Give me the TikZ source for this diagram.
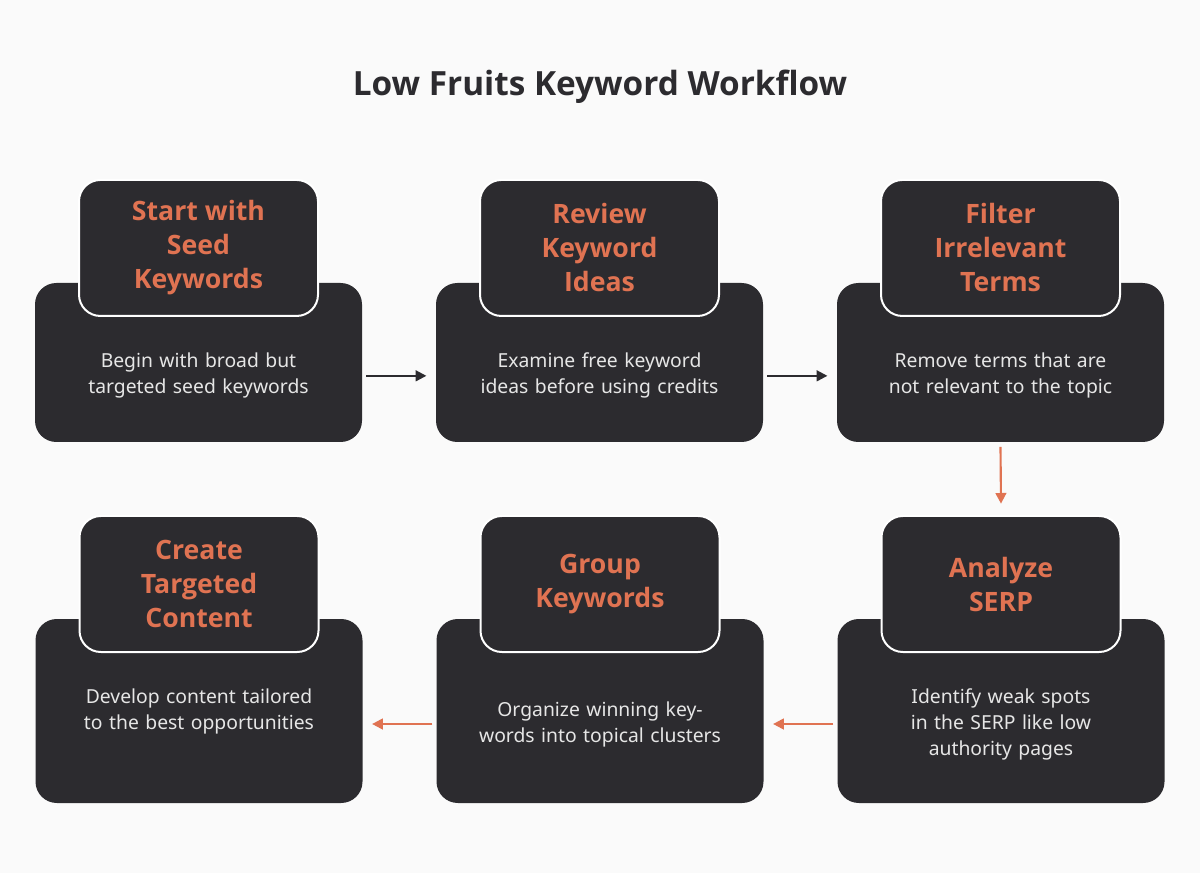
\documentclass[tikz,border=0pt]{standalone}
\usepackage{fontspec}
\setmainfont{Noto Sans}
\newfontfamily\headfont{Open Sans}
\usetikzlibrary{positioning, arrows.meta}
\definecolor{cardgray}{HTML}{2C2B2F}
\definecolor{accent}{HTML}{E07352}
\definecolor{bodytext}{HTML}{E6E6E6}
\definecolor{pagebg}{HTML}{FAFAFA}

\begin{document}
\begin{tikzpicture}[
    x=0.75pt, y=-0.75pt,
    node distance=300.75pt,
    on grid,
    card/.style={fill=cardgray, rounded corners=16pt, minimum width=245.25pt, inner sep=0pt},
    head/.style={fill=cardgray, draw=white, line width=1.5pt, rounded corners=16pt,
                 minimum width=179.25pt, minimum height=102pt, align=center,
                 text=accent, font=\headfont\bfseries\fontsize{20}{25.5}\selectfont},
    body/.style={text=bodytext, align=center, text width=200pt, font=\fontsize{14.5}{19.5}\selectfont},
    flow/.style={-{Triangle[length=8pt, width=8pt]}, line width=1.6pt},
    back/.style={flow, draw=accent}
]
   % page and title
   \fill[pagebg] (0,0) rectangle (1200,873);
   \node[font=\headfont\bfseries\fontsize{25}{30}\selectfont, text=cardgray] (title) at (600,87) {Low Fruits Keyword Workflow};

   % Top row
   \node[card, minimum height=119.25pt] (c1) at (198.5,362.5) {};
   \node[card, minimum height=119.25pt] (c2) [right=of c1] {};
   \node[card, minimum height=119.25pt] (c3) [right=of c2] {};
   \node[head] (h1) [above=85.9pt of c1] {Start with\\Seed\\Keywords};
   \node[head] (h2) [above=85.9pt of c2] {Review\\Keyword\\Ideas};
   \node[head] (h3) [above=85.9pt of c3] {Filter\\Irrelevant\\Terms};
   \node[body] (t1) [below=10pt of c1] {Begin with broad but targeted seed keywords};
   \node[body] (t2) [below=10pt of c2] {Examine free keyword ideas before using credits};
   \node[body] (t3) [below=10pt of c3] {Remove terms that are not relevant to the topic};

   % Bottom row
   \node[card, minimum height=138pt] (c6) at (1001,711) {};
   \node[card, minimum height=138pt] (c5) [left=of c6] {};
   \node[card, minimum height=138pt] (c4) [left=of c5] {};
   \node[head] (h6) [above=95.25pt of c6] {Analyze\\SERP};
   \node[head] (h5) [above=95.25pt of c5] {Group\\Keywords};
   \node[head] (h4) [above=95.25pt of c4] {Create\\Targeted\\Content};
   \node[body] (t6) [below=9.75pt of c6] {Identify weak spots in the SERP like low authority pages};
   \node[body] (t5) [below=9.75pt of c5] {Organize winning keywords into topical clusters};
   \node[body] (t4) [below=0pt of c4] {Develop content tailored\\to the best opportunities};

   % Connectors
   \draw[flow, draw=cardgray, fill=cardgray] ([xshift=3pt]c1.east |- t1) -- ([xshift=-7pt]c2.west |- t1);
   \draw[flow, draw=cardgray, fill=cardgray] ([xshift=3pt]c2.east |- t2) -- ([xshift=-7pt]c3.west |- t2);
   \draw[back, fill=accent] ([yshift=-3.5pt]c3.south) -- ([yshift=8.5pt]h6.north);
   \draw[back, fill=accent] ([xshift=-3pt]c6.west |- t6) -- ([xshift=7pt]c5.east |- t6);
   \draw[back, fill=accent] ([xshift=-3pt]c5.west |- t6) -- ([xshift=7pt]c4.east |- t6);
\end{tikzpicture}
\end{document}
